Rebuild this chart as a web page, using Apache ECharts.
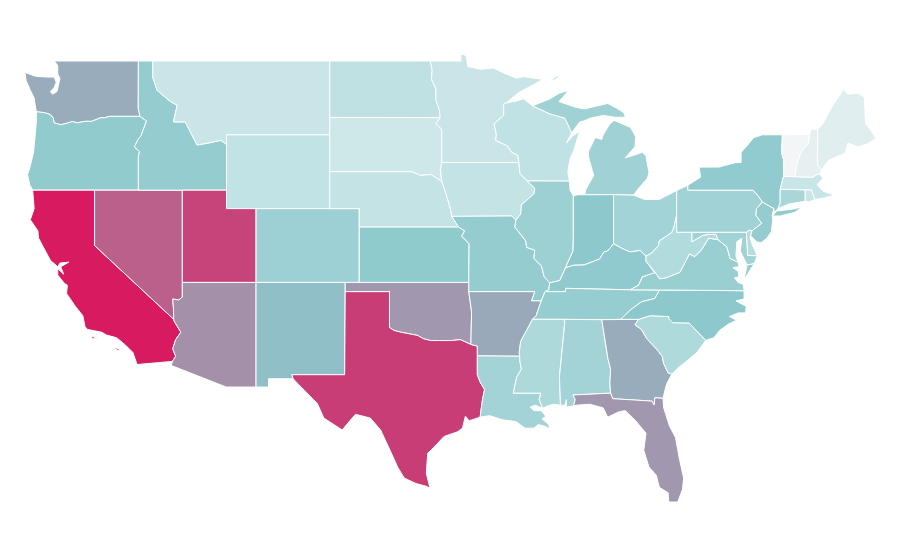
<!doctype html>
<html>
<head>
    <meta charset="utf-8">
    <title>US states map</title>
    <script src="https://cdn.jsdelivr.net/npm/echarts@6/dist/echarts.min.js"></script>
</head>
<body style="margin:0;padding:0;background:#fff">
    <div id="map" style="width:900px;height:560px"></div>
    <script>
        var stateNames = ['Washington', 'Oregon', 'California', 'Nevada', 'Idaho', 'Montana', 'Wyoming', 'Utah', 'Arizona', 'Colorado', 'New Mexico',
            'North Dakota', 'South Dakota', 'Nebraska', 'Kansas', 'Oklahoma', 'Texas', 'Minnesota', 'Iowa', 'Missouri', 'Arkansas', 'Louisiana',
            'Wisconsin', 'Illinois', 'Michigan', 'Indiana', 'Ohio', 'Kentucky', 'Tennessee', 'Mississippi', 'Alabama', 'Georgia', 'Florida',
            'South Carolina', 'North Carolina', 'Virginia', 'West Virginia', 'Maryland', 'Delaware', 'Pennsylvania', 'New Jersey', 'New York',
            'Connecticut', 'Rhode Island', 'Massachusetts', 'Vermont', 'New Hampshire', 'Maine'];
        var stateValues = [58, 47.5, 100, 80, 46, 20.5, 24, 88, 66, 42, 52.5,
            25.5, 18.5, 23.5, 48.5, 64, 90, 20.5, 23.5, 46, 59, 39,
            24.5, 42.5, 41, 50, 39.5, 48, 45, 34, 39, 58, 64,
            33, 50, 43.5, 31.5, 40, 30, 40, 46, 47,
            36, 21, 21, 0, 6.5, 9];

        // state outlines, lon,lat pairs. one string per polygon
        var outlines = {
            'Washington': ['-122.73,49 -117.03,49 -117.04,46.42 -116.92,46 -118.98,46 -119.3,45.93 -119.6,45.92 -120.2,45.73 -120.65,45.73 -121.2,45.65 -121.5,45.72 -122,45.6 -122.3,45.55 -122.75,45.65 -122.8,45.9 -123,46.1 -123.4,46.2 -123.95,46.25 -124.05,46.7 -124.1,47 -124.35,47.4 -124.65,47.95 -124.72,48.38 -124,48.17 -123.2,48.13 -122.75,48.13 -122.6,47.85 -122.75,47.55 -123,47.35 -122.85,47.2 -122.55,47.35 -122.45,47.7 -122.35,48.05 -122.5,48.3 -122.5,48.75'],
            'Oregon': ['-123.95,46.25 -123.4,46.2 -123,46.1 -122.8,45.9 -122.75,45.65 -122.3,45.55 -122,45.6 -121.5,45.72 -121.2,45.65 -120.65,45.73 -120.2,45.73 -119.6,45.92 -119.3,45.93 -118.98,46 -116.92,46 -116.48,45.75 -116.85,44.95 -117.05,44.75 -117.3,44.35 -116.95,44.1 -117.03,43.83 -117.03,42 -124.2,42 -124.4,42.3 -124.55,42.85 -124.4,43.2 -124.15,44 -124.05,44.8 -123.95,45.7'],
            'California': ['-124.2,42 -120,42 -120,39 -114.63,35 -114.6,34.9 -114.15,34.3 -114.5,33.9 -114.7,33.4 -114.5,33 -114.72,32.72 -117.12,32.55 -117.4,33.2 -117.9,33.6 -118.5,34 -119.2,34.15 -119.5,34.3 -120.47,34.45 -120.65,34.6 -120.8,35.2 -121.3,35.7 -121.9,36.4 -121.85,36.85 -122.05,36.95 -122.5,37.4 -122.5,37.75 -122.1,37.45 -122.3,37.85 -121.75,38.1 -122.35,38.05 -122.5,37.85 -123,38.2 -123.8,39.4 -123.85,39.8 -124.36,40.4 -124.1,41 -124.2,42',
                '-120.2,34.05 -120,34.05 -120,33.95 -120.2,33.95', '-119.95,34.03 -119.6,34.03 -119.6,33.98 -119.95,33.98', '-118.6,33.48 -118.3,33.36 -118.4,33.3 -118.6,33.42'],
            'Nevada': ['-120,42 -114.05,42 -114.05,36.2 -114.3,36.05 -114.7,36.1 -114.65,35.6 -114.63,35 -120,39'],
            'Idaho': ['-117.03,49 -116.05,49 -116.05,48.1 -115.75,47.4 -114.85,46.8 -114.4,46.6 -114.65,45.7 -113.85,45.7 -113.05,44.45 -112.3,44.55 -111.45,44.7 -111.05,44.48 -111.05,42 -117.03,42 -117.03,43.83 -116.95,44.1 -117.3,44.35 -117.05,44.75 -116.85,44.95 -116.48,45.75 -116.92,46 -117.04,46.42'],
            'Montana': ['-116.05,49 -104.05,49 -104.05,45 -111.05,45 -111.05,44.48 -111.45,44.7 -112.3,44.55 -113.05,44.45 -113.85,45.7 -114.65,45.7 -114.4,46.6 -114.85,46.8 -115.75,47.4 -116.05,48.1'],
            'Wyoming': ['-111.05,45 -104.05,45 -104.05,41 -111.05,41'],
            'Utah': ['-114.05,42 -111.05,42 -111.05,41 -109.05,41 -109.05,37 -114.05,37'],
            'Arizona': ['-114.05,37 -109.05,37 -109.05,31.33 -111.07,31.33 -114.8,32.5 -114.72,32.72 -114.5,33 -114.7,33.4 -114.5,33.9 -114.15,34.3 -114.6,34.9 -114.63,35 -114.65,35.6 -114.7,36.1 -114.3,36.05 -114.05,36.2'],
            'Colorado': ['-109.05,41 -102.05,41 -102.05,37 -109.05,37'],
            'New Mexico': ['-109.05,37 -103,37 -103.04,32 -106.62,32 -106.53,31.78 -108.2,31.78 -108.2,31.33 -109.05,31.33'],
            'North Dakota': ['-104.05,49 -97.23,49 -97.1,48.5 -97.15,48 -96.85,47.5 -96.85,46.9 -96.6,46.3 -96.56,45.93 -104.05,45.94'],
            'South Dakota': ['-104.05,45.94 -96.56,45.93 -96.85,45.6 -96.45,45.3 -96.45,43.5 -96.55,43.1 -96.45,42.49 -96.7,42.6 -97.2,42.85 -97.9,42.8 -98.5,43 -104.05,43'],
            'Nebraska': ['-104.05,43 -98.5,43 -97.9,42.8 -97.2,42.85 -96.7,42.6 -96.45,42.49 -96.25,42 -96.05,41.5 -95.9,41.1 -95.77,40.58 -95.31,40 -102.05,40 -102.05,41 -104.05,41'],
            'Kansas': ['-102.05,40 -95.31,40 -94.9,39.8 -95.1,39.5 -94.6,39.1 -94.62,37 -102.05,37'],
            'Oklahoma': ['-103,37 -94.62,37 -94.62,36.5 -94.43,35.4 -94.48,33.64 -95.2,33.9 -95.8,33.85 -96.6,33.85 -97.2,33.85 -97.7,33.95 -98.1,34.13 -99.2,34.3 -99.7,34.4 -100,34.56 -100,36.5 -103,36.5'],
            'Texas': ['-103,36.5 -100,36.5 -100,34.56 -99.7,34.4 -99.2,34.3 -98.1,34.13 -97.7,33.95 -97.2,33.85 -96.6,33.85 -95.8,33.85 -95.2,33.9 -94.48,33.64 -94.04,33.55 -94.04,33.02 -94.04,32 -93.85,31.6 -93.55,31.2 -93.7,30.6 -93.75,30.3 -93.85,29.7 -94.6,29.5 -94.85,29.75 -95.05,29.1 -95.4,28.9 -96.3,28.65 -97,28.05 -97.4,27.75 -97.45,27.25 -97.5,26.65 -97.25,25.85 -97.5,25.95 -98.2,26.1 -99,26.4 -99.45,27 -99.9,27.8 -100.6,29 -101.3,29.65 -102.3,29.85 -102.85,29.35 -103.2,29 -104.45,29.65 -104.9,30.45 -106.2,31.5 -106.53,31.78 -106.62,32 -103.04,32'],
            'Minnesota': ['-97.23,49 -95.15,49 -95.15,49.38 -94.8,49.3 -94.7,48.7 -93.8,48.55 -92.95,48.62 -92.4,48.4 -91.4,48.07 -90.9,48.15 -89.6,48 -90.5,47.6 -91.2,47.3 -92.1,46.72 -92.25,46.65 -92.25,46.05 -92.9,45.6 -92.75,45 -92.8,44.7 -92,44.4 -91.7,44.05 -91.3,43.9 -91.22,43.5 -96.45,43.5 -96.45,45.3 -96.85,45.6 -96.56,45.93 -96.6,46.3 -96.85,46.9 -96.85,47.5 -97.15,48 -97.1,48.5'],
            'Iowa': ['-96.45,43.5 -91.22,43.5 -91.15,42.9 -90.65,42.5 -90.15,42.1 -90.2,41.8 -91.05,41.2 -91.1,40.7 -91.42,40.38 -91.72,40.6 -95.77,40.58 -95.9,41.1 -96.05,41.5 -96.25,42 -96.45,42.49 -96.55,43.1'],
            'Missouri': ['-95.77,40.58 -91.72,40.6 -91.42,40.38 -91.5,40 -90.75,39.25 -90.7,38.9 -90.15,38.75 -90.2,38.3 -89.7,37.9 -89.5,37.3 -89.13,36.98 -89.2,36.6 -89.45,36.5 -89.7,36 -90.37,36 -90.15,36.5 -94.62,36.5 -94.62,37 -94.6,39.1 -95.1,39.5 -94.9,39.8 -95.31,40'],
            'Arkansas': ['-94.62,36.5 -90.15,36.5 -90.37,36 -89.7,36 -90.05,35.2 -90.3,35 -90.7,34.4 -91.1,33.8 -91.2,33.2 -91.17,33 -94.04,33.02 -94.04,33.55 -94.48,33.64 -94.43,35.4'],
            'Louisiana': ['-94.04,33.02 -91.17,33 -91.15,32.7 -91.05,32.3 -91.35,31.9 -91.5,31.4 -91.6,31 -89.73,31 -89.85,30.65 -89.6,30.18 -90.1,30.35 -90.45,30.25 -90.2,30.05 -89.75,30.05 -89.55,29.9 -89.4,29.75 -89.65,29.6 -89.2,29.3 -89.15,29.05 -89.45,29.2 -89.9,29.3 -90.2,29.1 -90.8,29.1 -91.4,29.45 -91.8,29.5 -92.3,29.55 -93.2,29.78 -93.85,29.7 -93.75,30.3 -93.7,30.6 -93.55,31.2 -93.85,31.6 -94.04,32'],
            'Wisconsin': ['-92.1,46.72 -91.2,46.87 -90.9,46.95 -90.3,46.57 -89.1,46.13 -88.1,45.9 -87.8,45.4 -87.65,45.1 -88,44.55 -87.55,44.95 -87.1,45.2 -87.5,44.15 -87.75,43.7 -87.85,43.25 -87.9,43 -87.8,42.49 -90.65,42.5 -91.15,42.9 -91.22,43.5 -91.3,43.9 -91.7,44.05 -92,44.4 -92.8,44.7 -92.75,45 -92.9,45.6 -92.25,46.05 -92.25,46.65'],
            'Illinois': ['-87.53,41.7 -87.75,42 -87.8,42.49 -90.65,42.5 -90.15,42.1 -90.2,41.8 -91.05,41.2 -91.1,40.7 -91.42,40.38 -91.5,40 -90.75,39.25 -90.7,38.9 -90.15,38.75 -90.2,38.3 -89.7,37.9 -89.5,37.3 -89.13,36.98 -88.45,37.1 -88.05,37.8 -87.95,38 -87.55,38.7 -87.53,39.35'],
            'Michigan': ['-90.3,46.57 -89.1,46.95 -88.5,47.25 -87.85,47.4 -88.5,46.8 -87.4,46.5 -86.8,46.4 -85.2,46.7 -84.6,46.45 -84.1,46.2 -84,45.95 -84.7,45.95 -85.5,46.05 -86.4,45.9 -86.8,45.75 -87.1,45.7 -87.65,45.1 -87.8,45.4 -88.1,45.9 -89.1,46.13',
                '-86.75,41.75 -84.8,41.76 -83.45,41.73 -83.15,42.05 -82.5,42.65 -82.4,42.95 -82.6,43.85 -82.85,44.05 -83.4,43.9 -84,43.75 -83.35,44.35 -83.3,44.9 -83.65,45.4 -84.75,45.78 -85.05,45.6 -85.5,45 -85.6,44.75 -86.05,44.85 -86.5,44.1 -86.5,43.8 -86.15,42.8 -86.7,42',
                '-88.95,48.02 -88.6,48.18 -88.5,48.14 -88.85,47.96'],
            'Indiana': ['-87.53,41.7 -87.2,41.75 -86.75,41.75 -84.8,41.76 -84.8,39.1 -85.2,38.7 -85.45,38.65 -85.75,38.27 -86.3,38.1 -86.8,37.95 -87.5,37.93 -88.05,37.8 -87.95,38 -87.55,38.7 -87.53,39.35'],
            'Ohio': ['-84.8,41.76 -83.45,41.73 -82.7,41.5 -81.7,41.5 -80.52,41.98 -80.52,40.64 -80.7,40 -80.85,39.7 -81.7,39.25 -81.75,39 -82.2,38.6 -82.6,38.42 -83,38.73 -83.7,38.65 -84.25,38.85 -84.8,39.1'],
            'Kentucky': ['-89.45,36.5 -88.07,36.5 -88.05,36.68 -83.68,36.6 -83.1,36.85 -82.85,37.3 -82,37.5 -82.6,38.15 -82.6,38.42 -83,38.73 -83.7,38.65 -84.25,38.85 -84.8,39.1 -85.2,38.7 -85.45,38.65 -85.75,38.27 -86.3,38.1 -86.8,37.95 -87.5,37.93 -88.05,37.8 -88.45,37.1 -89.13,36.98 -89.2,36.6'],
            'Tennessee': ['-90.3,35 -88.2,35 -85.6,34.98 -84.32,35 -83.6,35.55 -82.9,35.95 -82,36.13 -81.68,36.59 -83.68,36.6 -88.05,36.68 -88.07,36.5 -89.45,36.5 -89.7,36 -90.05,35.2'],
            'Mississippi': ['-90.3,35 -88.2,35 -88.1,34.9 -88.47,31.9 -88.4,30.35 -88.9,30.4 -89.3,30.3 -89.6,30.18 -89.85,30.65 -89.73,31 -91.6,31 -91.5,31.4 -91.35,31.9 -91.05,32.3 -91.15,32.7 -91.17,33 -91.2,33.2 -91.1,33.8 -90.7,34.4'],
            'Alabama': ['-88.2,35 -85.6,34.98 -85.18,32.87 -85,32.3 -85.05,31.55 -85,31 -87.55,30.9 -87.4,30.65 -87.52,30.3 -88,30.25 -88,30.65 -88.1,30.35 -88.4,30.35 -88.47,31.9 -88.1,34.9'],
            'Georgia': ['-85.6,34.98 -83.11,35 -83.35,34.7 -82.9,34.45 -82.55,33.95 -81.9,33.4 -81.5,33 -81.4,32.6 -81.1,32.1 -80.85,32.03 -81.2,31.5 -81.3,31.2 -81.45,30.72 -82,30.75 -82.05,30.36 -82.2,30.57 -84.86,30.7 -85,31 -85.05,31.55 -85,32.3 -85.18,32.87'],
            'Florida': ['-87.55,30.9 -85,31 -84.86,30.7 -82.2,30.57 -82.05,30.36 -82,30.75 -81.45,30.72 -81.4,30.2 -81,29.2 -80.6,28.6 -80.35,27.5 -80.05,26.4 -80.12,25.8 -80.45,25.1 -81.05,25.1 -81.1,25.6 -81.7,25.9 -81.9,26.55 -82.4,27 -82.75,27.9 -82.6,28.83 -83.3,29.5 -84,30.05 -84.4,30 -85.2,29.7 -85.5,30.2 -86.4,30.4 -87.3,30.35 -87.52,30.3 -87.4,30.65'],
            'South Carolina': ['-83.11,35 -82.3,35.2 -81.05,35.15 -81.05,35.05 -80.8,34.82 -79.67,34.8 -78.55,33.86 -79.15,33.2 -79.9,32.7 -80.45,32.35 -80.85,32.03 -81.1,32.1 -81.4,32.6 -81.5,33 -81.9,33.4 -82.55,33.95 -82.9,34.45 -83.35,34.7'],
            'North Carolina': ['-84.32,35 -83.11,35 -82.3,35.2 -81.05,35.15 -81.05,35.05 -80.8,34.82 -79.67,34.8 -78.55,33.86 -78,34 -77.6,34.4 -77,34.75 -76.45,34.95 -76.95,35.15 -76.35,35.35 -75.85,35.35 -75.8,35.7 -76.5,36 -75.95,36.1 -75.95,36.55 -81.68,36.59 -82,36.13 -82.9,35.95 -83.6,35.55'],
            'Virginia': ['-83.68,36.6 -81.68,36.59 -75.95,36.55 -76,36.9 -76.35,37 -76.6,37.25 -76.3,37.3 -76.35,37.6 -76.7,37.8 -76.3,37.85 -76.35,38.1 -76.9,38.3 -77.05,38.75 -77.12,38.93 -77.72,39.32 -78.35,39.4 -78.85,38.75 -79.3,38.4 -79.65,38.55 -80.3,37.55 -81.25,37.25 -81.68,37.2 -81.97,37.54 -82,37.5 -82.85,37.3 -83.1,36.85',
                '-75.95,37.15 -75.75,37.95 -75.25,38.03'],
            'West Virginia': ['-80.52,40.64 -80.52,39.72 -79.48,39.72 -79.48,39.2 -78.75,39.55 -78.4,39.6 -77.85,39.6 -77.72,39.32 -78.35,39.4 -78.85,38.75 -79.3,38.4 -79.65,38.55 -80.3,37.55 -81.25,37.25 -81.68,37.2 -81.97,37.54 -82.6,38.15 -82.6,38.42 -82.2,38.6 -81.75,39 -81.7,39.25 -80.85,39.7 -80.7,40'],
            'Maryland': ['-79.48,39.72 -75.79,39.72 -75.7,38.46 -75.05,38.45 -75.25,38.03 -75.75,37.95 -75.9,38.2 -76.2,38.7 -76.1,39.4 -76.45,39.2 -76.5,38.4 -76.35,38.1 -76.9,38.3 -77.05,38.75 -77.12,38.93 -77.72,39.32 -77.85,39.6 -78.4,39.6 -78.75,39.55 -79.48,39.2'],
            'Delaware': ['-75.79,39.72 -75.6,39.83 -75.4,39.8 -75.55,39.45 -75.4,39.05 -75.05,38.45 -75.7,38.46'],
            'Pennsylvania': ['-80.52,41.98 -79.76,42.27 -79.76,42 -75.35,42 -75.05,41.75 -74.7,41.36 -75.1,41 -75.15,40.65 -74.75,40.2 -75.4,39.8 -75.6,39.83 -75.79,39.72 -80.52,39.72 -80.52,40.64'],
            'New Jersey': ['-74.7,41.36 -73.92,41 -74.05,40.65 -74,40.4 -74.1,39.75 -74.4,39.4 -74.8,39.15 -75.1,39.2 -75.35,39.4 -75.5,39.55 -75.4,39.8 -74.75,40.2 -75.15,40.65 -75.1,41'],
            'New York': ['-79.76,42 -79.76,42.27 -78.9,42.7 -79,43.25 -77.65,43.25 -76.5,43.5 -76.15,43.5 -76.15,44.05 -75.7,44.45 -75.3,44.85 -74.7,45 -73.35,45 -73.4,44 -73.25,43.6 -73.27,42.75 -73.5,42.05 -73.5,41.3 -73.65,41 -73.9,40.8 -73.92,41 -74.7,41.36 -75.05,41.75 -75.35,42',
                '-74,40.6 -73.75,40.87 -72.6,40.98 -72,41.1 -72.5,40.8 -73.5,40.6'],
            'Connecticut': ['-73.5,42.05 -71.8,42.02 -71.8,41.4 -72.9,41.25 -73.65,41 -73.5,41.3'],
            'Rhode Island': ['-71.8,42.02 -71.38,42.02 -71.33,41.9 -71.15,41.5 -71.5,41.37 -71.8,41.4'],
            'Massachusetts': ['-73.27,42.75 -71.3,42.7 -70.95,42.88 -70.82,42.87 -70.6,42.65 -71,42.3 -70.6,41.95 -70.1,41.8 -70.15,42.05 -69.95,41.7 -70.65,41.55 -71.15,41.5 -71.33,41.9 -71.38,42.02 -71.8,42.02 -73.5,42.05'],
            'Vermont': ['-73.35,45 -71.5,45.01 -71.6,44.5 -72.05,44.1 -72.3,43.6 -72.45,43 -72.46,42.73 -73.27,42.75 -73.25,43.6 -73.4,44'],
            'New Hampshire': ['-71.5,45.01 -71.4,45.3 -70.95,45.3 -70.97,43.4 -70.7,43.07 -70.82,42.87 -70.95,42.88 -71.3,42.7 -72.46,42.73 -72.45,43 -72.3,43.6 -72.05,44.1 -71.6,44.5'],
            'Maine': ['-70.95,45.3 -70.6,45.6 -70.2,46.2 -69.85,46.7 -69.2,47.45 -68.9,47.2 -68.2,47.25 -67.8,47.05 -67.7,45.6 -67.35,45.25 -67,44.8 -67.6,44.5 -68.2,44.35 -68.9,44.55 -69.1,44 -69.85,43.75 -70.25,43.6 -70.7,43.07 -70.97,43.4']
        };

        function ring(str) {
            var pts = str.split(' ').map(function (p) {
                return p.split(',').map(Number);
            });
            pts.push(pts[0]);
            return [pts];
        }

        var usa = {
            type: 'FeatureCollection',
            features: stateNames.map(function (name) {
                return {
                    type: 'Feature',
                    properties: { name: name },
                    geometry: { type: 'MultiPolygon', coordinates: outlines[name].map(ring) }
                };
            })
        };
        echarts.registerMap('usa', usa);

        var chart = echarts.init(document.getElementById('map'));
        chart.setOption({
            animation: false,
            visualMap: {
                show: false,
                min: 0,
                max: 100,
                inRange: { color: ['#f4f5f6', '#c0e2e4', '#8cc8cc', '#b27196', '#d81b60'] }
            },
            series: [{
                type: 'map',
                map: 'usa',
                roam: false,
                silent: true,
                aspectScale: 0.799,
                layoutCenter: [450.5, 278],
                layoutSize: 851,
                label: { show: false },
                itemStyle: { borderColor: '#fff', borderWidth: 1 },
                data: stateNames.map(function (name, i) {
                    return { name: name, value: stateValues[i] };
                })
            }]
        });
    </script>
</body>
</html>
